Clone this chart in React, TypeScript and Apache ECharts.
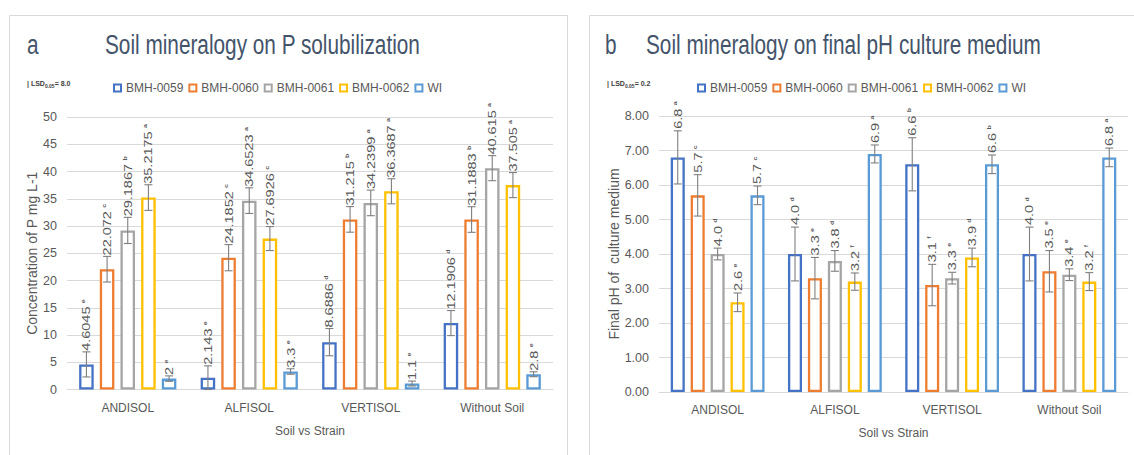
import React, { useEffect, useRef } from 'react';
import * as echarts from 'echarts';

const categories = ['ANDISOL', 'ALFISOL', 'VERTISOL', 'Without Soil'];
const strains = ['BMH-0059', 'BMH-0060', 'BMH-0061', 'BMH-0062', 'WI'];
const colors = ['#4472C4', '#ED7D31', '#A5A5A5', '#FFC000', '#5B9BD5'];

// Panel a: P solubilization (rows = strains, cols = soils)
const pValues = [
  [4.6045, 2.143, 8.6886, 12.1906],
  [22.072, 24.1852, 31.215, 31.1883],
  [29.1867, 34.6523, 34.2399, 40.615],
  [35.2175, 27.6926, 36.3687, 37.505],
  [2, 3.3, 1.1, 2.8],
];
const pErrors = [
  [2.3, 2.2, 2.5, 2.3],
  [2.35, 2.4, 2.35, 2.35],
  [2.4, 2.35, 2.35, 2.3],
  [2.35, 2.2, 2.3, 2.3],
  [0.5, 0.5, 0.45, 0.45],
];
const pLetters = [
  ['e', 'e', 'd', 'd'],
  ['c', 'c', 'b', 'b'],
  ['b', 'a', 'a', 'a'],
  ['a', 'c', 'a', 'a'],
  ['e', 'e', 'e', 'e'],
];

// Panel b: final pH
const phValues = [
  [6.8, 4.0, 6.6, 4.0],
  [5.7, 3.3, 3.1, 3.5],
  [4.0, 3.8, 3.3, 3.4],
  [2.6, 3.2, 3.9, 3.2],
  [5.7, 6.9, 6.6, 6.8],
];
const phErrors = [
  [0.77, 0.78, 0.77, 0.78],
  [0.6, 0.6, 0.6, 0.6],
  [0.17, 0.3, 0.17, 0.17],
  [0.27, 0.25, 0.27, 0.26],
  [0.27, 0.26, 0.27, 0.27],
];
const phLetters = [
  ['a', 'd', 'b', 'd'],
  ['c', 'e', 'f', 'e'],
  ['d', 'd', 'e', 'e'],
  ['e', 'f', 'd', 'f'],
  ['c', 'a', 'b', 'a'],
];

const titleA = 'Soil mineralogy on P solubilization';
const titleB = 'Soil mineralogy on final pH culture medium';

const FONT = "'Liberation Sans', Arial, sans-serif";
const TEXT = '#595959';
const TITLE = '#44546A';
const GRID_LINE = '#D9D9D9';
const CAT_GAP = 0.2;
const BAR_GAP = 0.42;

function barSeries(values: number[][], axis: number) {
  return strains.map((name, s) => ({
    type: 'bar',
    name,
    xAxisIndex: axis,
    yAxisIndex: axis,
    data: values[s],
    barCategoryGap: CAT_GAP * 100 + '%',
    barGap: BAR_GAP * 100 + '%',
    itemStyle: { color: '#ffffff', borderColor: colors[s], borderWidth: 2.3 },
    emphasis: { disabled: true },
  }));
}

function errorSeries(values: number[][], errors: number[][], letters: string[][], fmt: (v: number) => string, axis: number, lift: number) {
  const data: number[][] = [];
  const texts: string[] = [];
  const sups: string[] = [];
  for (let s = 0; s < strains.length; s++) {
    for (let c = 0; c < categories.length; c++) {
      data.push([c, values[s][c], errors[s][c], s]);
      texts.push(fmt(values[s][c]));
      sups.push(letters[s][c]);
    }
  }
  return {
    type: 'custom',
    xAxisIndex: axis,
    yAxisIndex: axis,
    z: 10,
    clip: false,
    silent: true,
    data,
    renderItem: (params: any, api: any) => {
      const c = api.value(0);
      const v = api.value(1);
      const e = api.value(2);
      const s = api.value(3);
      const band = api.size([1, 0])[0];
      const bw = (band * (1 - CAT_GAP)) / (5 + 4 * BAR_GAP);
      const total = 5 * bw + 4 * bw * BAR_GAP;
      const center = api.coord([c, v]);
      const x = center[0] - total / 2 + s * bw * (1 + BAR_GAP) + bw / 2;
      const top = api.coord([c, v + e])[1];
      const bot = api.coord([c, Math.max(0, v - e)])[1];
      const cap = 4;
      const ls = { stroke: '#7F7F7F', lineWidth: 1.1 };
      return {
        type: 'group',
        children: [
          { type: 'line', shape: { x1: x, y1: top, x2: x, y2: bot }, style: ls },
          { type: 'line', shape: { x1: x - cap, y1: top, x2: x + cap, y2: top }, style: ls },
          { type: 'line', shape: { x1: x - cap, y1: bot, x2: x + cap, y2: bot }, style: ls },
          {
            type: 'text',
            x: x,
            y: top - lift,
            rotation: Math.PI / 2,
            scaleY: 0.8,
            style: {
              text: '{v|' + texts[params.dataIndex] + '} {s|' + sups[params.dataIndex] + '}',
              align: 'left',
              verticalAlign: 'middle',
              fill: TEXT,
              rich: {
                v: { fontSize: 14.5, fontFamily: FONT, fill: TEXT, lineHeight: 15, verticalAlign: 'middle' },
                s: { fontSize: 7, fontFamily: FONT, fontWeight: 'bold', fill: TEXT, lineHeight: 15, verticalAlign: 'top' },
              },
            },
          },
        ],
      };
    },
  };
}

function lsdText(x: number, value: string) {
  return {
    type: 'text',
    x,
    y: 83,
    silent: true,
    style: {
      text: '{a|| LSD}{b|0.05}{a|= ' + value + '}',
      verticalAlign: 'middle',
      fill: TEXT,
      rich: {
        a: { fontSize: 7, fontWeight: 'bold', fontFamily: FONT, fill: '#404040', lineHeight: 10, verticalAlign: 'middle' },
        b: { fontSize: 5, fontWeight: 'bold', fontFamily: FONT, fill: '#404040', lineHeight: 10, verticalAlign: 'bottom' },
      },
    },
  };
}

function titleText(x: number, text: string) {
  return {
    type: 'text',
    x,
    y: 44,
    scaleX: 0.77,
    silent: true,
    style: { text, fontSize: 27, fontFamily: FONT, fill: TITLE, verticalAlign: 'middle', align: 'left' },
  };
}

export default function App() {
  const ref = useRef<HTMLDivElement>(null);
  useEffect(() => {
    if (!ref.current) return;
    const chart = echarts.init(ref.current, undefined, { renderer: 'svg' });
    const legendCommon = {
      data: strains,
      itemWidth: 7,
      itemHeight: 7,
      itemGap: 5,
      icon: 'rect',
      textStyle: { fontSize: 12, fontFamily: FONT, color: TEXT },
      selectedMode: false,
    };
    const xAxisCommon = {
      type: 'category',
      data: categories,
      axisLine: { lineStyle: { color: GRID_LINE, width: 1 } },
      axisTick: { show: false },
      axisLabel: { fontSize: 12, fontFamily: FONT, color: TEXT, margin: 12 },
      name: 'Soil vs Strain',
      nameLocation: 'middle',
      nameGap: 35,
      nameTextStyle: { fontSize: 12, fontFamily: FONT, color: TEXT },
    };
    const yAxisCommon = {
      type: 'value',
      axisLine: { show: false },
      axisTick: { show: false },
      splitLine: { lineStyle: { color: GRID_LINE, width: 1 } },
      nameLocation: 'middle',
      nameTextStyle: { fontSize: 14, fontFamily: FONT, color: TEXT },
    };
    chart.setOption({
      animation: false,
      backgroundColor: '#ffffff',
      legend: [
        { ...legendCommon, left: 108, top: 77 },
        { ...legendCommon, left: 692, top: 77 },
      ],
      grid: [
        { left: 67, top: 117, width: 486, height: 272.5 },
        { left: 659, top: 116, width: 469, height: 276 },
      ],
      xAxis: [
        { ...xAxisCommon, gridIndex: 0 },
        { ...xAxisCommon, gridIndex: 1 },
      ],
      yAxis: [
        {
          ...yAxisCommon,
          gridIndex: 0,
          min: 0,
          max: 50,
          interval: 5,
          axisLabel: { fontSize: 12.5, fontFamily: FONT, color: TEXT, margin: 10 },
          name: 'Concentration of P mg L-1',
          nameGap: 28,
        },
        {
          ...yAxisCommon,
          gridIndex: 1,
          min: 0,
          max: 8,
          interval: 1,
          axisLabel: { fontSize: 12.5, fontFamily: FONT, color: TEXT, margin: 10, formatter: (v: number) => v.toFixed(2) },
          name: 'Final pH of  culture medium',
          nameGap: 38,
        },
      ],
      graphic: [
        { type: 'rect', silent: true, z: -10, shape: { x: 9.5, y: 15.5, width: 558, height: 460 }, style: { fill: 'none', stroke: GRID_LINE, lineWidth: 1 } },
        { type: 'rect', silent: true, z: -10, shape: { x: 589.5, y: 15.5, width: 580, height: 460 }, style: { fill: 'none', stroke: GRID_LINE, lineWidth: 1 } },
        titleText(27, 'a'),
        titleText(105, titleA),
        titleText(605, 'b'),
        titleText(646, titleB),
        lsdText(27, '8.0'),
        lsdText(607, '0.2'),
      ],
      series: [
        ...barSeries(pValues, 0),
        ...barSeries(phValues, 1),
        errorSeries(pValues, pErrors, pLetters, (v) => String(v), 0, 1),
        errorSeries(phValues, phErrors, phLetters, (v) => v.toFixed(1), 1, 2),
      ],
    });
    return () => chart.dispose();
  }, []);
  return <div ref={ref} style={{ position: 'absolute', left: 0, top: 0, width: 1134, height: 455 }} />;
}
